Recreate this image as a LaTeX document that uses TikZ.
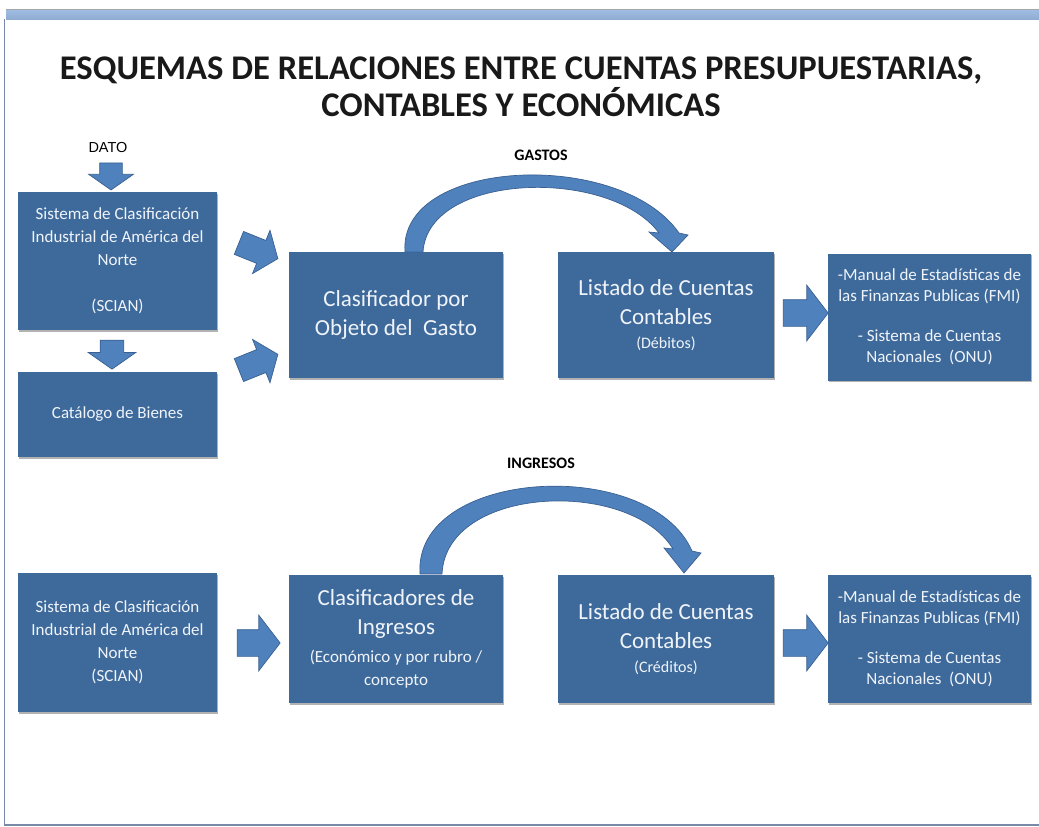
\documentclass[tikz,border=0pt]{standalone}
\usepackage{fontspec}
\setmainfont{Carlito}
\newfontfamily\arialfont{Liberation Sans}
\usetikzlibrary{shapes.arrows,shadows}
\definecolor{boxblue}{RGB}{62,106,155}
\definecolor{boxtext}{RGB}{240,244,250}
\definecolor{arrowblue}{RGB}{79,129,189}
\definecolor{arrowline}{RGB}{58,96,145}
\definecolor{barblue}{RGB}{160,190,230}
\definecolor{bardark}{RGB}{145,172,210}
\definecolor{framecol}{RGB}{120,138,168}
\tikzset{
  box/.style={rectangle, fill=boxblue, text=boxtext, align=center, inner sep=0pt,
    drop shadow={shadow xshift=1.2pt, shadow yshift=-1.5pt, fill=black, opacity=0.3}},
  smalltxt/.style={font=\fontsize{17}{23}\selectfont},
  bigtxt/.style={font=\fontsize{23}{29}\selectfont},
  barrow/.style={single arrow, fill=arrowblue, draw=arrowline, line width=0.7pt,
    inner xsep=0pt, minimum width=0pt},
  curvearrow/.style={fill=arrowblue, draw=arrowline, line width=0.7pt},
  heading/.style={font=\bfseries\fontsize{16}{19}\selectfont, text=black}
}
\begin{document}
\begin{tikzpicture}[x=1pt,y=-1pt]
\useasboundingbox (0,0) rectangle (1039,827);
% frame
\fill[white] (0,0) rectangle (1039,827);
\shade[top color=barblue, bottom color=bardark] (6,9) rectangle (1039,19);
\draw[gray!70, line width=0.6pt] (6,9) -- (1039,9);
\draw[framecol, line width=1.5pt] (4.5,19) -- (4.5,825) -- (1039,825);
% title
\node[font=\bfseries\fontsize{34.6}{37}\selectfont, text=black!90, align=center] (title) at (521,86.5)
  {ESQUEMAS DE RELACIONES ENTRE CUENTAS PRESUPUESTARIAS,\\CONTABLES Y ECONÓMICAS};
\node[font=\arialfont\fontsize{14.5}{16}\selectfont] (dato) at (108,148) {DATO};
\node[heading] (gastos) at (541,155) {GASTOS};
\node[heading] (ingresos) at (541,463) {INGRESOS};
% boxes top row
\node[box, smalltxt, minimum width=199pt, minimum height=138pt] (scian1) at (117.5,261)
  {Sistema de Clasificación\\Industrial de América del\\Norte\\[23pt](SCIAN)};
\node[box, smalltxt, minimum width=199pt, minimum height=85pt] (cat) at (117.5,414.5)
  {Catálogo de Bienes};
\node[box, bigtxt, minimum width=214pt, minimum height=126pt] (cog) at (396,315)
  {Clasificador por\\Objeto del~~Gasto};
\node[box, bigtxt, minimum width=216pt, minimum height=126pt] (lcc1) at (666,315)
  {Listado de Cuentas\\Contables\\[-5pt]{\fontsize{16}{19}\selectfont (Débitos)}};
\node[box, font=\fontsize{17}{21}\selectfont, minimum width=203pt, minimum height=127pt] (man1) at (929.5,317)
  {-Manual de Estadísticas de\\las Finanzas Publicas (FMI)\\[19pt]- Sistema de Cuentas\\Nacionales~~(ONU)};
% boxes bottom row
\node[box, smalltxt, minimum width=199pt, minimum height=139pt] (scian2) at (117.5,642.5)
  {Sistema de Clasificación\\Industrial de América del\\Norte\\(SCIAN)};
\node[box, bigtxt, minimum width=214pt, minimum height=128pt] (cing) at (396,639)
  {Clasificadores de\\Ingresos\\[-1pt]{\fontsize{17}{21}\selectfont (Económico y por rubro /}\\[-6pt]{\fontsize{17}{21}\selectfont concepto}};
\node[box, bigtxt, minimum width=216pt, minimum height=128pt] (lcc2) at (666,639)
  {Listado de Cuentas\\Contables\\[-5pt]{\fontsize{16}{19}\selectfont (Créditos)}};
\node[box, font=\fontsize{17}{21}\selectfont, minimum width=203pt, minimum height=128pt] (man2) at (929.5,639)
  {-Manual de Estadísticas de\\las Finanzas Publicas (FMI)\\[19pt]- Sistema de Cuentas\\Nacionales~~(ONU)};
% block arrows
\node[barrow, inner ysep=11pt, minimum height=27pt, single arrow head extend=11pt,
  single arrow tip angle=110, rotate=-90] (adato) at (111,172.5) {};
\node[barrow, inner ysep=11.5pt, minimum height=29pt, single arrow head extend=12pt,
  single arrow tip angle=110, rotate=-90] (adown) at (112,350.5) {};
\node[barrow, inner ysep=12pt, minimum height=42pt, single arrow head extend=11pt,
  single arrow tip angle=105, rotate=-22] (adiag1) at (254,249) {};
\node[barrow, inner ysep=12pt, minimum height=42pt, single arrow head extend=11pt,
  single arrow tip angle=105, rotate=22] (adiag2) at (254,364) {};
\node[barrow, inner ysep=13pt, minimum height=45pt, single arrow head extend=14.5pt,
  single arrow tip angle=105] (aman1) at (800.5,313) {};
\node[barrow, inner ysep=13pt, minimum height=43pt, single arrow head extend=14.5pt,
  single arrow tip angle=105] (aing) at (253.5,643) {};
\node[barrow, inner ysep=13pt, minimum height=45pt, single arrow head extend=14.5pt,
  single arrow tip angle=105] (aman2) at (800.5,643) {};
% curved arrows
\draw[curvearrow] (405,252) .. controls (398,158) and (620,148) .. (679,233)
  -- (688,235) -- (672,252) -- (649,232) -- (659,233)
  .. controls (610,167) and (428,172) .. (423,252) -- cycle;
\draw[curvearrow] (420,574) .. controls (413,468) and (650,455) .. (692,551)
  -- (701,553) -- (684,573) -- (664,548) -- (673,549)
  .. controls (630,478) and (446,485) .. (442,574) -- cycle;
\end{tikzpicture}
\end{document}
